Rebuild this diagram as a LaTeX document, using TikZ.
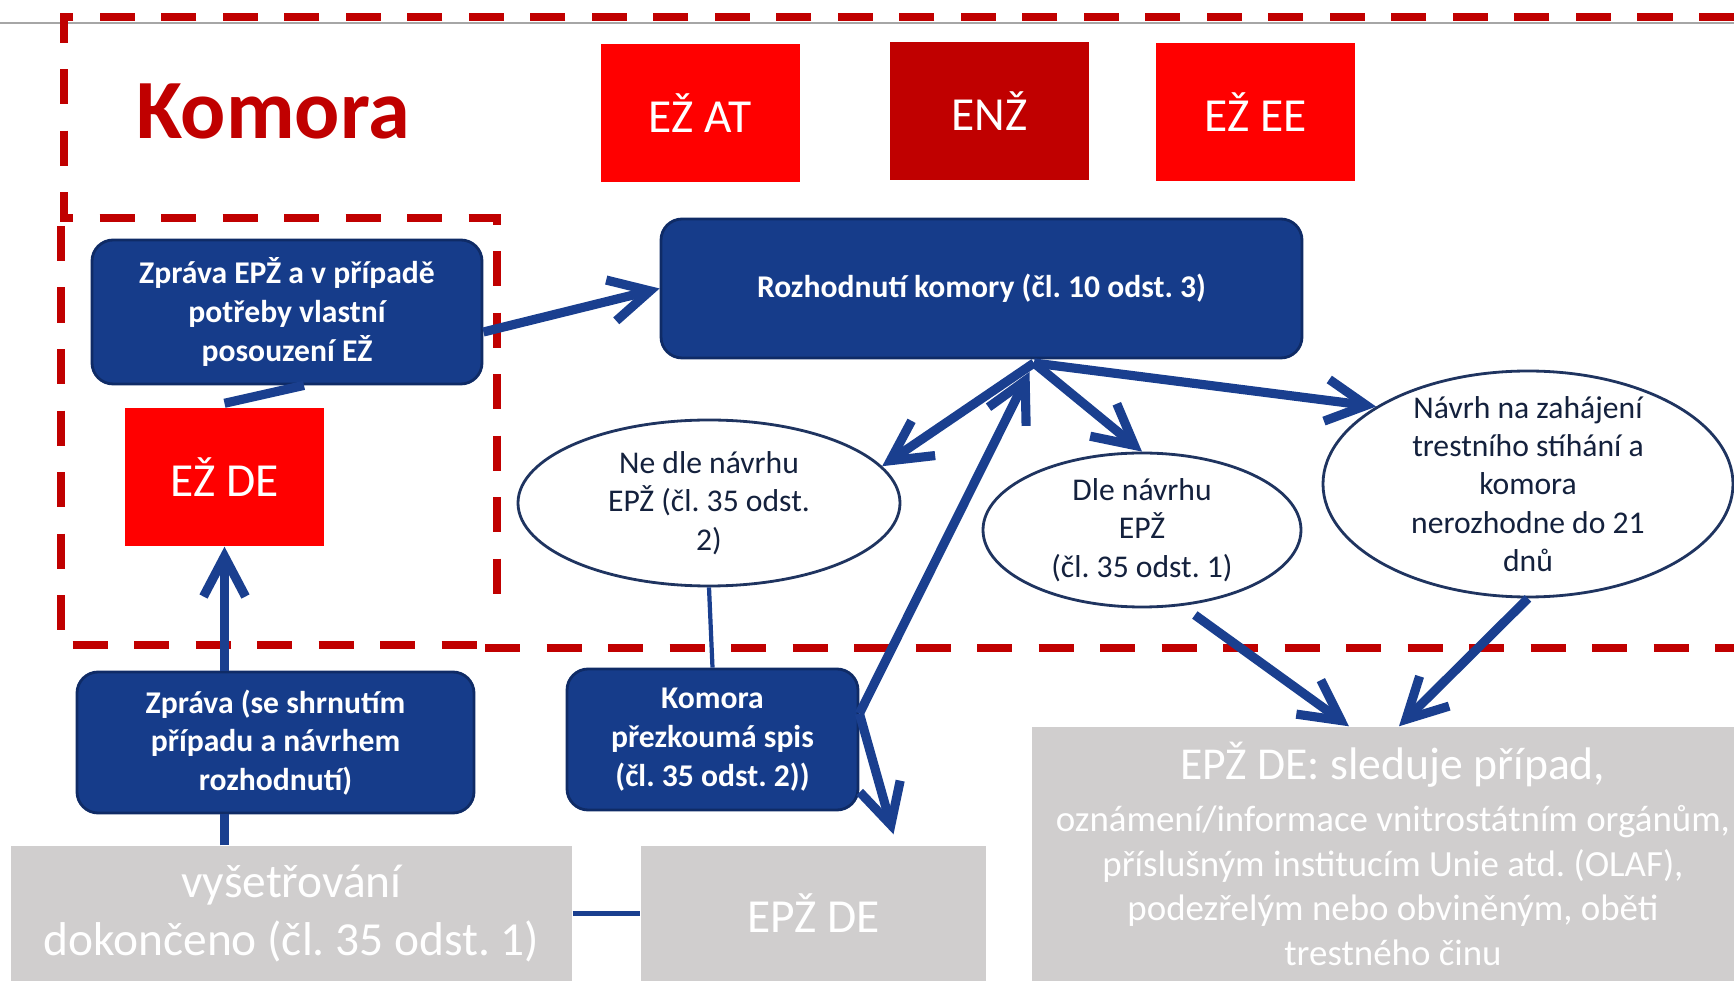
\documentclass[tikz,border=0pt]{standalone}
\usepackage{fontspec}
\setmainfont{Carlito}
\frenchspacing
\usetikzlibrary{arrows.meta,shapes.geometric}
\definecolor{slideblue}{HTML}{163C8A}
\definecolor{slideborder}{HTML}{0F2B66}
\definecolor{arrowblue}{HTML}{1A3F8F}
\definecolor{bubbleborder}{HTML}{1F3460}
\definecolor{bubbletext}{HTML}{14213D}
\definecolor{brightred}{HTML}{FF0000}
\definecolor{darkred}{HTML}{C00000}
\definecolor{slabgray}{HTML}{D0CECE}
\definecolor{rulegray}{HTML}{A6A6A6}
\tikzset{
  bluecard/.style={rectangle, rounded corners=6pt, fill=slideblue, draw=slideborder, line width=0.8pt, text=white, align=center, font=\fontsize{9}{11}\selectfont\bfseries},
  redcard/.style={rectangle, fill=brightred, text=white, minimum width=1.99cm, minimum height=1.38cm, font=\fontsize{13.5}{16}\selectfont},
  enzcard/.style={redcard, fill=darkred},
  bubble/.style={ellipse, fill=white, draw=bubbleborder, line width=0.8pt, text=bubbletext, align=center, inner sep=0pt, font=\fontsize{9}{10.9}\selectfont},
  slab/.style={rectangle, fill=slabgray, text=white, align=center, font=\fontsize{13.5}{16.3}\selectfont},
  frame/.style={draw=darkred, line width=2.2pt, dash pattern=on 10pt off 7.5pt},
  flow/.style={-{Straight Barb[length=4mm,width=4.2mm]}, line width=2.6pt, draw=arrowblue},
  link/.style={line width=2.6pt, draw=arrowblue}
}

\begin{document}
\begin{tikzpicture}
\useasboundingbox (0,0) rectangle (17.34,9.81);
\clip (0,0) rectangle (17.34,9.81);

\draw[rulegray, line width=0.6pt] (0,9.58) -- (17.34,9.58);
\draw[frame] (17.34,9.64) -- (0.64,9.64) -- (0.64,7.63) -- (4.97,7.63) -- (4.97,3.67);
\draw[frame] (0.61,7.55) -- (0.61,3.36) -- (4.85,3.36);
\draw[frame] (4.85,3.33) -- (17.34,3.33);

\node[font=\fontsize{24}{28}\selectfont\bfseries, text=darkred] (komora) at (2.73,8.70) {Komora};
\node[redcard] (ezat) at (7.00,8.68) {EŽ AT};
\node[enzcard] (enz) at (9.895,8.70) {ENŽ};
\node[redcard] (ezee) at (12.555,8.69) {EŽ EE};

\node[bluecard, minimum width=3.90cm, minimum height=1.44cm] (zprava) at (2.87,6.69) {Zpráva EPŽ a v případě\\potřeby vlastní\\posouzení EŽ};
\node[redcard] (ezde) at (2.245,5.04) {EŽ DE};
\node[bluecard, minimum width=6.41cm, minimum height=1.39cm] (rozh) at (9.815,6.925) {Rozhodnutí komory (čl. 10 odst. 3)};

\node[bubble, minimum width=3.82cm, minimum height=1.66cm] (nedle) at (7.09,4.78) {Ne dle návrhu\\EPŽ (čl. 35 odst.\\2)};
\node[bubble, minimum width=3.18cm, minimum height=1.54cm] (dle) at (11.42,4.51) {Dle návrhu\\EPŽ\\(čl. 35 odst. 1)};
\node[bubble, minimum width=4.10cm, minimum height=2.26cm, inner ysep=-4pt] (navrh) at (15.28,4.97) {Návrh na zahájení\\trestního stíhání a\\komora\\nerozhodne do 21\\dnů};

\node[bluecard, minimum width=3.97cm, minimum height=1.41cm] (shrnuti) at (2.755,2.385) {Zpráva (se shrnutím\\případu a návrhem\\rozhodnutí)};
\node[bluecard, minimum width=2.91cm, minimum height=1.41cm] (prezk) at (7.125,2.415) {Komora\\přezkoumá spis\\(čl. 35 odst. 2))};

\node[slab, minimum width=5.61cm, minimum height=1.35cm] (vysetr) at (2.915,0.675) {vyšetřování\\dokončeno (čl. 35 odst. 1)};
\node[slab, minimum width=3.45cm, minimum height=1.35cm] (epzde) at (8.135,0.675) {EPŽ DE};
\node[slab, minimum width=7.22cm, minimum height=2.54cm, font=\fontsize{10.5}{12.7}\selectfont] (sleduje) at (13.93,1.27) {{\fontsize{13}{16}\selectfont EPŽ DE: sleduje případ,}\\[2pt]oznámení/informace vnitrostátním orgánům,\\příslušným institucím Unie atd. (OLAF),\\podezřelým nebo obviněným, oběti\\trestného činu};

\coordinate (hub) at (10.34,6.18);
\coordinate (fork) at ([yshift=0.26cm]prezk.east);

\draw[link] ([yshift=0.04cm]ezde.north) -- ([xshift=0.17cm]zprava.south);
\draw[flow] ([yshift=-0.2cm]zprava.east) -- (rozh.west);
\draw[flow] (shrnuti.north -| ezde.south) -- (ezde.south);
\draw[link] (vysetr.north -| ezde.south) -- (shrnuti.south -| ezde.south);
\draw[link, line width=1.4pt] (vysetr.east) -- (epzde.west);
\draw[link, line width=1.2pt] (nedle.south) -- (prezk.north);
\draw[flow] (hub) -- (nedle.12);
\draw[flow] (hub) -- (dle.north);
\draw[flow] (hub) -- (navrh.153);
\draw[flow, shorten >=0.1cm] (fork) -- (hub);
\draw[flow] (fork) -- ([xshift=0.8cm,yshift=0.11cm]epzde.north);
\draw[flow] ([shift={(0.06,-0.1)}]dle.-58) -- ([xshift=-0.44cm]sleduje.north);
\draw[flow] (navrh.south) -- ([xshift=0.06cm]sleduje.north);

\end{tikzpicture}
\end{document}
